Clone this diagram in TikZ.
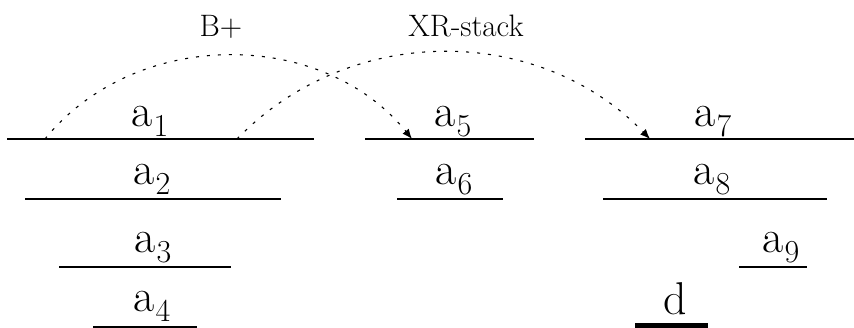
\documentclass[tikz,border=0pt]{standalone}
\usetikzlibrary{arrows.meta}
\newcommand{\idx}[1]{\kern1pt\raisebox{-0.2em}{\fontsize{32}{32}\selectfont #1}}

\begin{document}
\begin{tikzpicture}[x=1pt, y=-1pt,
    bar/.style={line width=2pt},
    lbl/.style={anchor=base, inner sep=0pt, font=\fontsize{46}{48}\selectfont},
    tag/.style={anchor=base, inner sep=0pt, font=\fontsize{31}{33}\selectfont},
    hop/.style={line width=1.1pt, dash pattern=on 3pt off 8pt, -{Latex[length=10pt,width=8pt]}}]
    \useasboundingbox (0,0) rectangle (854,328);
    \draw[bar] (7,139) -- (314,139);
    \draw[bar] (25,199) -- (281,199);
    \draw[bar] (59,267) -- (231,267);
    \draw[bar] (93,327) -- (197,327);
    \draw[bar] (365,139) -- (534,139);
    \draw[bar] (397,199) -- (503,199);
    \draw[bar] (585,139) -- (854,139);
    \draw[bar] (603,199) -- (827,199);
    \draw[bar] (739,267) -- (807,267);
    \draw[bar, line width=6pt] (635,326) -- (708,326);
    \node[lbl] (a1) at (150,127) {a\idx{1}};
    \node[lbl] (a2) at (152,185) {a\idx{2}};
    \node[lbl] (a3) at (153,253) {a\idx{3}};
    \node[lbl] (a4) at (152,312) {a\idx{4}};
    \node[lbl] (a5) at (453,127) {a\idx{5}};
    \node[lbl] (a6) at (454,185) {a\idx{6}};
    \node[lbl] (a7) at (713,127) {a\idx{7}};
    \node[lbl] (a8) at (712,185) {a\idx{8}};
    \node[lbl] (a9) at (781,253) {a\idx{9}};
    \node[lbl] (d) at (675,315) {d};
    \node[tag] (bplus) at (221,37) {B+};
    \node[tag] (xrstack) at (466,37) {XR-stack};
    \coordinate (bfrom) at (45,139);
    \coordinate (bto) at (412,139);
    \coordinate (xfrom) at (237,139);
    \coordinate (xto) at (650,139);
    \draw[hop] (bfrom) to[out=51, in=129] (bto);
    \draw[hop] (xfrom) to[out=46, in=134] (xto);
\end{tikzpicture}
\end{document}
